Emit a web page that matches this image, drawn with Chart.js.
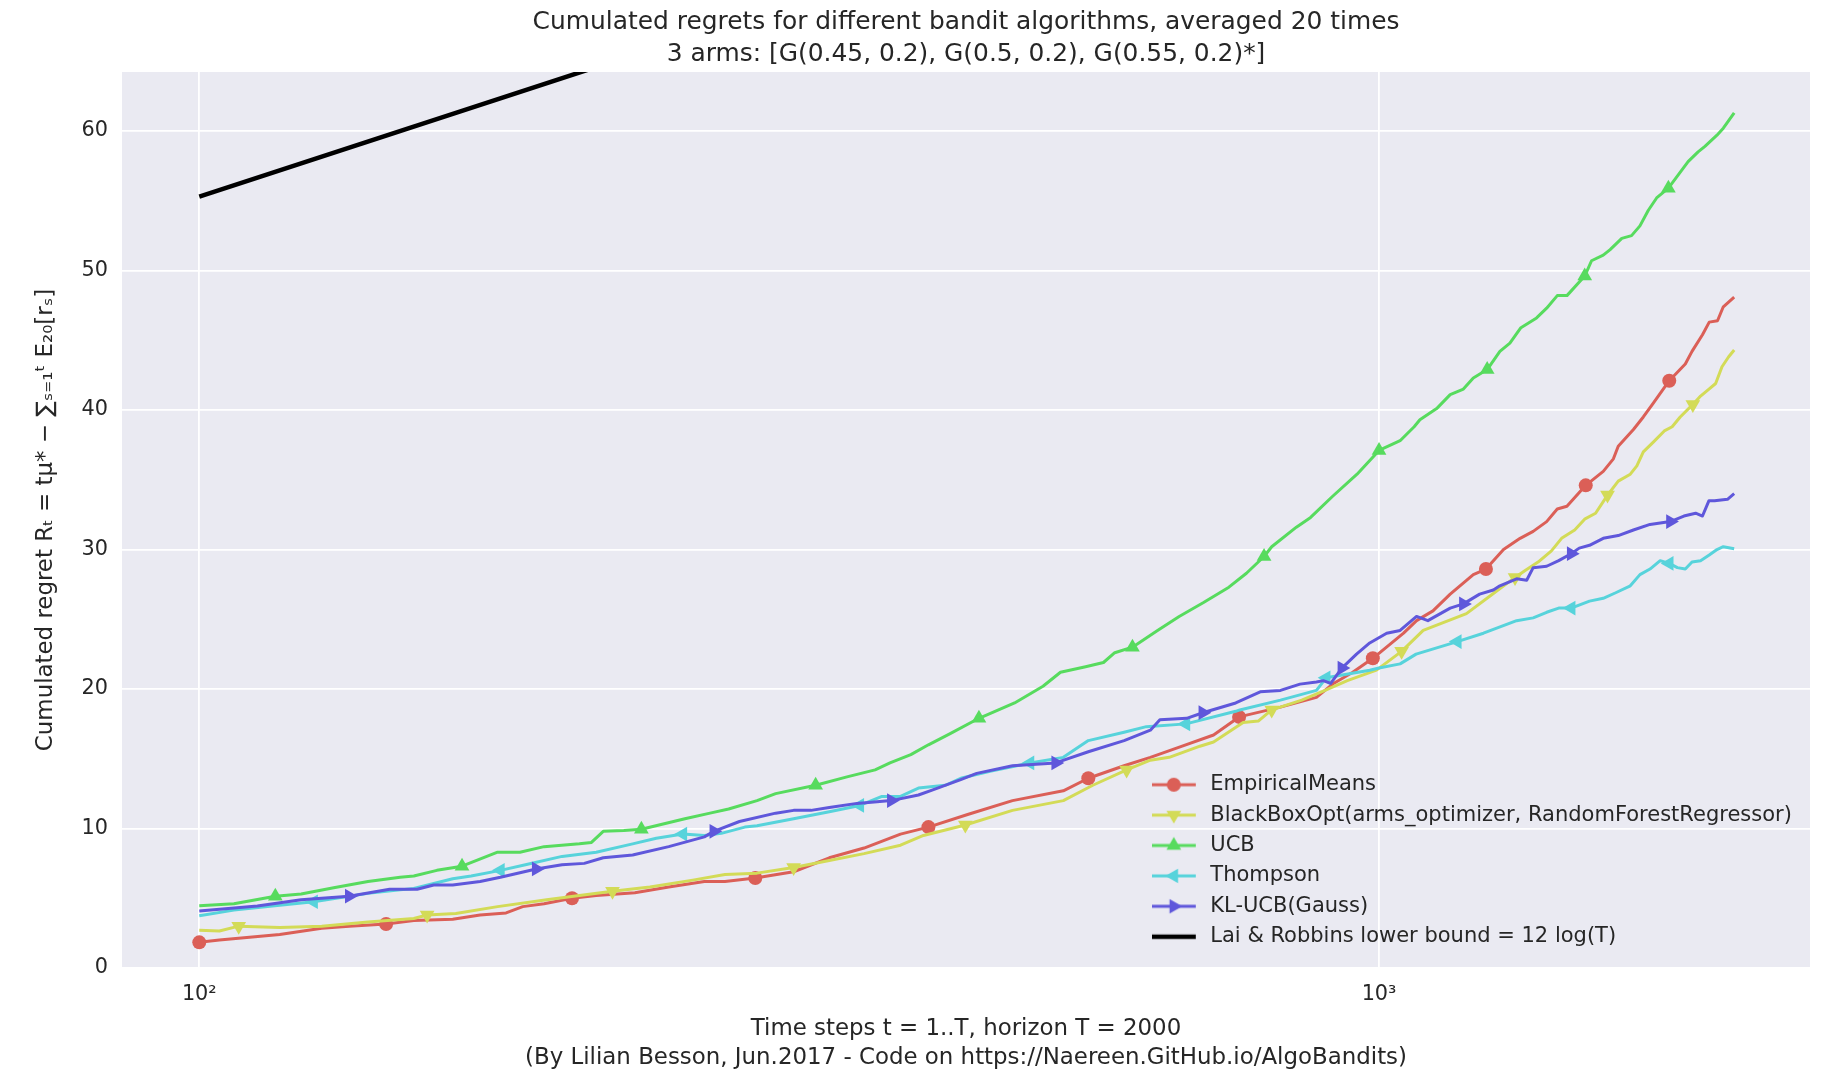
<!DOCTYPE html>
<html>
<head>
<meta charset="utf-8">
<script src="https://cdn.jsdelivr.net/npm/chart.js@4.4.0/dist/chart.umd.min.js"></script>
<style>
html,body{margin:0;padding:0;background:#ffffff;}
#wrap{width:1821px;height:1081px;position:relative;}
</style>
</head>
<body>
<div id="wrap"><canvas id="c" width="1821" height="1081"></canvas></div>
<script>
// ---------------- DATA ----------------
const seriesNames = [
  "EmpiricalMeans",
  "BlackBoxOpt(arms_optimizer, RandomForestRegressor)",
  "UCB",
  "Thompson",
  "KL-UCB(Gauss)",
  "Lai & Robbins lower bound = 12 log(T)"
];

// EmpiricalMeans
const emT = [100,104,117,127,134,144,152,164,173,182,188,196,207,217,234,250,268,279,296,319,342,366,393,415,448,489,540,567,608,640,681,724,761,825,885,915,950,988,1049,1076,1111,1149,1202,1232,1275,1317,1351,1387,1416,1443,1497,1549,1580,1595,1643,1675,1708,1762,1818,1842,1880,1905,1936,1958,2000];
const emV = [1.84,2.0,2.4,2.85,3.0,3.15,3.4,3.5,3.8,3.95,4.4,4.6,5.0,5.2,5.4,5.8,6.2,6.2,6.45,6.9,7.9,8.6,9.6,10.1,11.0,12.0,12.7,13.6,14.5,15.1,15.9,16.7,18.0,18.7,19.4,20.4,21.2,22.2,24.0,24.9,25.6,26.8,28.2,28.6,30.0,30.8,31.3,32.0,32.9,33.1,34.6,35.6,36.5,37.4,38.6,39.5,40.5,42.1,43.3,44.2,45.4,46.3,46.4,47.4,48.1];
const emMarks = [100,144,207,296,415,567,761,988,1232,1497,1762];

// BlackBoxOpt
const bbT = [100,104,108,117,127,139,152,156,165,179,197,210,224,241,262,279,297,319,342,366,393,411,446,489,540,572,611,640,664,705,724,767,790,811,860,900,940,995,1045,1090,1186,1250,1304,1330,1364,1400,1428,1465,1495,1526,1562,1595,1633,1654,1675,1708,1745,1772,1800,1845,1873,1904,1929,1953,1978,2000];
const bbV = [2.7,2.65,3.0,2.9,3.0,3.3,3.55,3.8,3.9,4.4,4.9,5.2,5.5,5.8,6.3,6.7,6.8,7.2,7.7,8.2,8.8,9.5,10.25,11.3,12.0,13.1,14.2,14.9,15.1,15.9,16.2,17.6,17.7,18.5,19.2,19.9,20.6,21.35,22.7,24.2,25.4,26.85,28.0,28.5,29.1,29.9,30.8,31.4,32.2,32.6,33.9,34.9,35.4,36.0,37.0,37.7,38.5,38.8,39.5,40.4,41.0,41.5,41.9,43.1,43.8,44.3];
const bbMarks = [108,156,224,319,446,611,811,1045,1304,1562,1845];

// UCB
const ucbT = [100,107,116,122,130,139,148,152,159,167,179,187,196,210,215,220,229,237,258,271,281,297,308,333,354,374,385,401,415,433,458,491,519,537,564,584,597,618,649,677,710,746,772,799,811,851,875,913,958,1000,1042,1071,1083,1119,1149,1179,1202,1235,1266,1291,1319,1360,1387,1416,1443,1494,1514,1549,1570,1606,1637,1664,1691,1719,1759,1828,1864,1889,1934,1958,2000];
const ucbV = [4.46,4.6,5.15,5.3,5.75,6.2,6.5,6.6,7.0,7.3,8.3,8.3,8.7,8.9,9.0,9.8,9.85,9.95,10.7,11.1,11.4,12.0,12.5,13.1,13.7,14.2,14.7,15.3,16.0,16.8,17.9,19.0,20.2,21.2,21.6,21.9,22.6,23.0,24.2,25.2,26.2,27.3,28.3,29.5,30.2,31.6,32.3,33.8,35.4,37.1,37.8,38.8,39.3,40.1,41.1,41.5,42.3,42.9,44.2,44.8,45.9,46.6,47.3,48.2,48.2,49.6,50.7,51.1,51.5,52.3,52.5,53.2,54.3,55.2,55.9,57.8,58.5,58.9,59.7,60.2,61.3];
const ucbMarks = [116,167,237,333,458,618,799,1000,1235,1494,1759];

// Thompson
const thT = [100,107,117,125,139,148,152,164,170,180,189,203,217,233,244,257,268,277,290,297,319,342,363,379,393,407,429,442,468,506,540,567,608,635,686,756,762,825,885,902,982,1000,1042,1075,1165,1226,1308,1351,1387,1420,1455,1508,1549,1587,1633,1664,1697,1731,1762,1790,1818,1842,1873,1905,1934,1958,2000];
const thV = [3.75,4.15,4.5,4.75,5.35,5.6,5.7,6.4,6.6,7.0,7.4,8.0,8.3,8.9,9.3,9.6,9.5,9.65,10.1,10.2,10.7,11.2,11.65,12.3,12.3,12.9,13.1,13.6,14.1,14.7,15.1,16.3,16.9,17.3,17.5,18.4,18.5,19.2,19.9,20.8,21.35,21.5,21.8,22.5,23.4,24.0,24.9,25.1,25.5,25.8,25.8,26.3,26.5,26.9,27.4,28.2,28.6,29.2,29.0,28.7,28.6,29.1,29.2,29.6,30.0,30.2,30.05];
const thMarks = [125,180,257,363,506,686,902,1165,1455,1762];

// KL-UCB(Gauss)
const klT = [100,112,122,134,145,153,158,164,173,180,193,203,212,220,233,250,268,273,287,308,319,330,342,361,386,407,418,442,456,489,532,567,608,640,652,687,709,756,793,825,857,885,897,910,930,957,982,1015,1042,1076,1100,1149,1179,1217,1250,1266,1308,1334,1351,1387,1420,1455,1478,1508,1549,1595,1643,1697,1766,1813,1855,1880,1904,1925,1974,2000];
const klV = [4.08,4.45,4.9,5.15,5.65,5.65,5.95,5.95,6.2,6.5,7.1,7.4,7.5,7.9,8.1,8.7,9.4,9.8,10.5,11.1,11.3,11.3,11.5,11.8,12.0,12.4,12.75,13.5,13.95,14.5,14.7,15.5,16.3,17.05,17.8,17.9,18.3,19.0,19.8,19.9,20.35,20.5,20.6,20.4,21.5,22.5,23.3,24.0,24.2,25.2,24.9,25.8,26.1,26.8,27.1,27.4,27.9,27.8,28.7,28.8,29.2,29.7,30.1,30.3,30.8,31.0,31.4,31.8,32.0,32.4,32.6,32.4,33.5,33.5,33.6,34.0];
const klMarks = [134,193,273,386,532,709,930,1179,1455,1766];

// Lai & Robbins lower bound (straight line on the log-x axis)
const lbT = [100, 2000];
const lbV = [55.3, 91.2];

// Axis ticks
const xTickValues = [100, 1000];
const xTickLabels = ["10\u00B2", "10\u00B3"];
const yTickStep = 10;

// ---------------- STYLE ----------------
const colors = ["#DB5F57", "#D3DB57", "#57DB5E", "#57D3DB", "#5F57DB", "#000000"];
const markerStyles = [
  {style: "circle", rot: 0, r: 7},
  {style: "triangle", rot: 180, r: 8.5},
  {style: "triangle", rot: 0, r: 8.5},
  {style: "triangle", rot: -90, r: 8.5},
  {style: "triangle", rot: 90, r: 8.5},
  null
];
const TXT = "#262626";
const FS = 20.8;      // ticks
const FS_LEG = 21;    // legend
const FS_LAB = 22.9;  // axis labels
const FS_TIT = 24.9;  // title
Chart.defaults.font.family = "'DejaVu Sans', 'Noto Sans', sans-serif";
Chart.defaults.color = TXT;

function zip(ts, vs) { return ts.map((t, i) => ({x: t, y: vs[i]})); }

const seriesT = [emT, bbT, ucbT, thT, klT, lbT];
const seriesV = [emV, bbV, ucbV, thV, klV, lbV];
const seriesM = [emMarks, bbMarks, ucbMarks, thMarks, klMarks, []];

const datasets = seriesNames.map((name, i) => {
  const ms = markerStyles[i];
  const marks = new Set(seriesM[i]);
  return {
    label: name,
    data: zip(seriesT[i], seriesV[i]),
    borderColor: colors[i],
    backgroundColor: colors[i],
    borderWidth: i === 5 ? 4.5 : 3,
    borderJoinStyle: 'round',
    tension: 0,
    fill: false,
    order: 5 - i,
    pointStyle: ms ? ms.style : false,
    pointRotation: ms ? ms.rot : 0,
    pointBackgroundColor: colors[i],
    pointBorderColor: colors[i],
    pointBorderWidth: 0,
    pointRadius: ctx => (ms && ctx.raw && marks.has(ctx.raw.x)) ? ms.r : 0,
    pointHoverRadius: 0
  };
});

// legend swatches (line with marker in its middle)
function swatch(i) {
  const cv = document.createElement('canvas');
  cv.width = 48; cv.height = 24;
  const c = cv.getContext('2d');
  c.strokeStyle = colors[i];
  c.fillStyle = colors[i];
  c.lineWidth = i === 5 ? 4.5 : 3;
  c.lineCap = 'butt';
  c.beginPath(); c.moveTo(0, 12); c.lineTo(44, 12); c.stroke();
  const ms = markerStyles[i];
  if (ms) {
    const cx = 22, cy = 12, r = ms.r;
    c.beginPath();
    if (ms.style === 'circle') {
      c.arc(cx, cy, r, 0, Math.PI * 2);
    } else {
      let a = ms.rot * Math.PI / 180;
      for (let k = 0; k < 3; k++) {
        const px = cx + Math.sin(a) * r, py = cy - Math.cos(a) * r;
        if (k === 0) c.moveTo(px, py); else c.lineTo(px, py);
        a += 2 * Math.PI / 3;
      }
      c.closePath();
    }
    c.fill();
  }
  return cv;
}
const swatches = seriesNames.map((_, i) => swatch(i));

const bgPlugin = {
  id: 'bg',
  beforeDraw(chart) {
    const {ctx, chartArea: a} = chart;
    ctx.save();
    ctx.fillStyle = '#ffffff';
    ctx.fillRect(0, 0, chart.width, chart.height);
    ctx.fillStyle = '#EAEAF2';
    ctx.fillRect(a.left, a.top, a.right - a.left, a.bottom - a.top);
    ctx.restore();
  }
};

const legendPlacer = {
  id: 'legendPlacer',
  afterLayout(chart) {
    const lg = chart.legend;
    if (!lg) return;
    const w = lg.width, h = lg.height;
    lg.left = 1142.4; lg.right = lg.left + w;
    lg.top = 764.8; lg.bottom = lg.top + h;
  }
};

new Chart(document.getElementById('c'), {
  type: 'line',
  data: { datasets },
  plugins: [bgPlugin, legendPlacer],
  options: {
    responsive: false,
    devicePixelRatio: 1,
    animation: false,
    events: [],
    layout: { padding: { top: 0, left: 0, right: 11, bottom: 0 } },
    plugins: {
      tooltip: { enabled: false },
      title: {
        display: true,
        fullSize: false,
        text: ["Cumulated regrets for different bandit algorithms, averaged 20 times",
               "3 arms: [G(0.45, 0.2), G(0.5, 0.2), G(0.55, 0.2)*]"],
        color: TXT,
        font: { size: FS_TIT, weight: 'normal', lineHeight: 32 / FS_TIT },
        padding: { top: 7, bottom: 1 }
      },
      legend: {
        display: true,
        position: 'chartArea',
        fullSize: false,
        align: 'start',
        labels: {
          usePointStyle: true,
          pointStyleWidth: 48,
          padding: 9.4,
          color: TXT,
          font: { size: FS_LEG },
          sort: (a, b) => a.datasetIndex - b.datasetIndex,
          generateLabels(chart) {
            return chart.data.datasets.map((ds, i) => ({
              text: ds.label,
              datasetIndex: i,
              pointStyle: swatches[i],
              rotation: 0,
              fillStyle: colors[i],
              strokeStyle: colors[i],
              lineWidth: 0,
              hidden: false,
              fontColor: TXT
            }));
          }
        }
      }
    },
    scales: {
      x: {
        type: 'logarithmic',
        min: 86.0,
        max: 2319,
        border: { display: false },
        grid: { color: '#ffffff', lineWidth: 1.8, drawTicks: false },
        afterBuildTicks: s => { s.ticks = xTickValues.map(v => ({ value: v })); },
        afterFit: s => { s.height = 113; },
        ticks: {
          padding: 14.5,
          color: TXT,
          font: { size: FS },
          autoSkip: false,
          maxRotation: 0,
          callback: v => { const k = xTickValues.indexOf(v); return k >= 0 ? xTickLabels[k] : ''; }
        },
        title: {
          display: true,
          text: ["Time steps t = 1..T, horizon T = 2000",
                 "(By Lilian Besson, Jun.2017 - Code on https://Naereen.GitHub.io/AlgoBandits)"],
          color: TXT,
          font: { size: FS_LAB, lineHeight: 29 / FS_LAB },
          padding: { top: 0, bottom: 8.5 }
        }
      },
      y: {
        type: 'linear',
        min: 0,
        max: 64.23,
        border: { display: false },
        grid: { color: '#ffffff', lineWidth: 1.8, drawTicks: false },
        afterFit: s => { s.width = 122; },
        ticks: {
          stepSize: yTickStep,
          includeBounds: false,
          padding: 14,
          color: TXT,
          font: { size: FS }
        },
        title: {
          display: true,
          text: "Cumulated regret R\u209C = t\u03BC* \u2212 \u2211\u209B\u208C\u2081\u1D57 E\u2082\u2080[r\u209B]",
          color: TXT,
          font: { size: FS_LAB },
          padding: { top: 32.3, bottom: 0 }
        }
      }
    }
  }
});
</script>
</body>
</html>
